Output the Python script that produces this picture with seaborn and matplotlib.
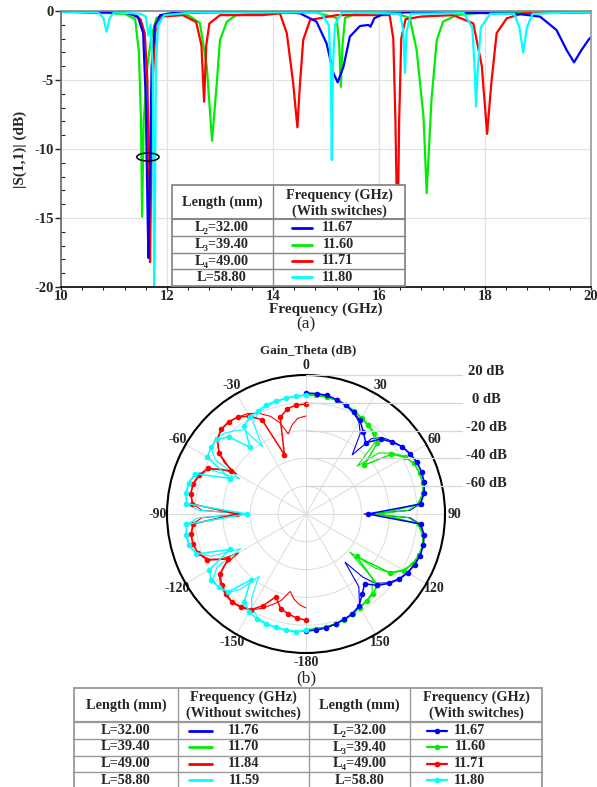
import numpy as np
import seaborn as sns
import matplotlib.pyplot as plt
from matplotlib.patches import Rectangle, Ellipse
from matplotlib.lines import Line2D

sns.set_theme(style='ticks')
plt.rcParams['font.family'] = ['Liberation Serif', 'DejaVu Serif']
plt.rcParams['axes.unicode_minus'] = False

# ---- (a) |S11| curves, with switches ----
blue_f = [10.0, 11.2, 11.45, 11.55, 11.60, 11.63, 11.65, 11.68, 11.71, 11.77, 11.87, 12.1, 13.5, 14.3, 14.51,
          14.82, 15.01, 15.14, 15.22, 15.33, 15.45, 15.64, 15.80, 15.84, 15.91, 16.08, 16.5, 17.0, 18.0, 18.6,
          19.04, 19.35, 19.54, 19.68, 19.82, 19.96, 20.0]
blue_db = [-0.05, -0.1, -0.4, -1.6, -6.4, -13.9, -17.9, -11.3, -4.0, -1.1, -0.3, -0.15, -0.05, -0.1, -0.17,
           -0.77, -2.34, -4.5, -5.17, -4.03, -1.86, -1.09, -1.01, -1.14, -0.53, -0.22, -0.1, -0.12, -0.15, -0.2,
           -0.41, -1.38, -2.83, -3.72, -2.83, -2.05, -1.9]

green_f = [10.0, 11.2, 11.4, 11.47, 11.51, 11.53, 11.56, 11.63, 11.7, 11.8, 12.0, 12.4, 12.62, 12.75, 12.85,
           12.94, 13.0, 13.13, 13.31, 13.6, 14.8, 15.2, 15.25, 15.28, 15.31, 15.36, 15.6, 16.3, 16.58, 16.71,
           16.84, 16.9, 16.99, 17.09, 17.21, 17.47, 18.0, 20.0]
green_db = [-0.05, -0.2, -0.6, -3.0, -8.0, -14.9, -8.0, -4.0, -2.0, -0.5, -0.2, -0.3, -0.87, -4.0, -9.4,
            -5.2, -2.1, -0.77, -0.29, -0.2, -0.1, -0.5, -2.5, -5.5, -2.5, -0.5, -0.15, -0.15, -0.5, -2.83,
            -7.66, -13.2, -6.45, -2.1, -0.77, -0.29, -0.1, -0.05]

red_f = [10.0, 11.3, 11.5, 11.58, 11.63, 11.66, 11.68, 11.70, 11.73, 11.78, 11.9, 12.3, 12.55, 12.65, 12.70,
         12.74, 12.8, 13.0, 13.8, 14.13, 14.26, 14.38, 14.46, 14.51, 14.57, 14.70, 15.2, 15.8, 16.2, 16.27,
         16.31, 16.35, 16.38, 16.42, 16.5, 16.8, 17.4, 17.78, 17.94, 18.04, 18.12, 18.22, 18.41, 18.72, 20.0]
red_db = [-0.05, -0.15, -0.6, -1.6, -5.0, -12.0, -18.2, -12.0, -5.0, -1.5, -0.4, -0.3, -0.8, -2.5, -6.57,
          -2.5, -0.9, -0.3, -0.3, -0.17, -1.6, -5.2, -8.43, -5.2, -2.1, -0.65, -0.3, -0.3, -0.3, -2.0,
          -8.0, -17.0, -8.0, -2.0, -0.6, -0.4, -0.3, -0.9, -4.0, -8.9, -5.2, -1.6, -0.53, -0.17, -0.1]

cyan_f = [10.0, 10.7, 10.8, 10.86, 10.92, 11.0, 11.5, 11.6, 11.65, 11.69, 11.73, 11.76, 11.79, 11.83, 11.95,
          12.5, 14.9, 15.05, 15.09, 15.11, 15.13, 15.17, 15.3, 16.4, 16.46, 16.49, 16.52, 16.6, 17.6, 17.76,
          17.81, 17.83, 17.86, 17.92, 18.1, 18.55, 18.65, 18.72, 18.79, 18.9, 20.0]
cyan_db = [-0.05, -0.1, -0.5, -1.5, -0.5, -0.1, -0.2, -0.4, -1.8, -1.0, -4.0, -21.0, -4.0, -1.0, -0.3,
           -0.1, -0.1, -1.0, -4.0, -10.8, -4.0, -1.0, -0.1, -0.2, -1.5, -4.47, -1.5, -0.2, -0.15, -1.2,
           -4.5, -6.93, -4.5, -1.2, -0.2, -0.2, -1.2, -3.0, -1.2, -0.2, -0.05]

# ---- (b) Gain_Theta patterns (dB) ----
theta_right = list(range(0, 181, 5))
theta_left = list(range(0, -181, -5))

blue_mk = [7.0, 7.0, 6.7, 5.2, 3.5, 0.9, -2.3, -8.1, -13.1, -3.7, 0.6, 4.5, 6.3, 8.1, 8.5, 8.1, 6.3, 2.7,
           -35.4, 2.7, 6.3, 7.4, 7.4, 6.3, 4.5, 2.0, -2.3, -7.3, -14.5, -9.5, -3.7, -0.9, 0.6, 2.0, 3.1, 3.8, 4.2]
green_mk = [6.0, 6.0, 5.6, 4.9, 3.8, 2.0, -0.1, -1.9, -3.7, -7.3, -25.3, -5.2, 2.0, 6.0, 7.0, 7.0, 5.6, 1.3,
            -26.8, 1.3, 5.6, 7.0, 6.7, 4.9, 1.3, -5.9, -32.5, -7.3, -5.2, -3.7, -2.3, -0.5, 0.9, 2.0, 2.7, 3.1, 3.5]
red_mk = [-0.9, -1.2, -3.0, -8.1, -34.7, -5.2, 1.3, 5.2, 6.7, 6.3, 3.5, -3.7, -18.1, -2.3, 2.0, 4.2, 4.2, 2.0,
          -30.4, 1.3, 3.8, 4.2, 2.7, -1.6, -15.3, -4.5, -0.9, 1.3, 2.7, 1.3, -0.5, -7.3, -16.7, -9.5, -7.0, -4.8, -3.7]
cyan_mk = [5.6, 5.2, 4.5, 4.2, 3.5, 2.0, 0.2, -2.3, -17.4, -1.6, 3.8, 3.5, 2.0, -19.6, 4.9, 7.4, 7.8, 6.3,
           -37.6, 6.3, 7.8, 7.0, 4.2, -19.6, 0.6, 3.1, 2.0, -0.9, -18.1, -2.3, 1.3, 3.5, 4.2, 4.5, 4.9, 5.2, 3.5]

blue_thin_t = [0, 5, 10, 15, 20, 25, 30, 34, 38, 41, 45, 50, 55, 60, 65, 70, 75, 80, 85, 88, 90, 92, 95, 100,
               105, 110, 115, 120, 125, 130, 135, 138, 141, 144, 150, 155, 160, 165, 170, 175, 180]
blue_thin = [6.3, 6.3, 6.0, 4.9, 3.1, 0.6, -3.7, -10.2, -26.0, -8.1, -2.3, 1.3, 4.5, 6.7, 8.1, 8.5, 7.8, 6.0,
             2.0, -5.2, -38.3, -5.2, 2.0, 6.0, 7.0, 7.0, 6.0, 4.2, 1.3, -3.0, -9.5, -18.8, -35.4, -15.3, -3.0,
             -0.5, 0.9, 2.0, 3.1, 3.8, 4.2]
green_thin_t = [0, 5, 10, 15, 20, 25, 30, 35, 40, 44, 47, 50, 55, 60, 65, 70, 75, 80, 85, 88, 90, 92, 95, 100,
                105, 110, 115, 120, 125, 128, 131, 134, 140, 145, 150, 155, 160, 165, 170, 175, 180]
green_thin = [5.6, 5.6, 5.2, 4.5, 3.5, 1.7, -0.5, -2.3, -4.5, -9.5, -29.6, -11.7, -3.7, 2.7, 5.6, 6.7, 6.7,
              5.2, 0.6, -6.6, -29.6, -6.6, 0.6, 5.2, 6.7, 6.3, 4.5, 0.6, -6.6, -16.7, -38.3, -13.8, -5.9, -4.1,
              -2.7, -0.9, 0.6, 1.7, 2.4, 2.7, 3.1]
red_thin_t = [0, -5, -9, -12.5, -16, -20, -25, -30, -35, -40, -45, -50, -55, -58, -60, -62, -65, -70, -75, -80,
              -85, -88, -90, -92, -95, -100, -105, -110, -115, -118, -120, -122, -125, -130, -135, -140, -145,
              -150, -155, -160, -164, -168.5, -172, -176, -180]
red_thin = [-9.5, -10.9, -15.3, -21.0, -11.7, -5.2, -0.1, 3.5, 5.2, 6.3, 6.0, 3.1, -3.7, -10.9, -22.4, -10.9,
            -3.7, 1.3, 3.8, 4.2, 1.7, -5.2, -36.8, -5.2, 1.7, 4.2, 4.2, 2.4, -3.0, -10.9, -23.9, -10.9, -3.7,
            0.2, 2.0, 3.1, 2.0, -0.1, -5.2, -10.9, -15.3, -23.2, -18.1, -14.5, -12.4]
cyan_thin_t = [0, -5, -10, -15, -20, -25, -30, -33, -36, -40, -45, -50, -55, -59, -62, -65, -70, -75, -80, -85,
               -88, -90, -92, -95, -100, -105, -110, -114, -118, -121, -125, -130, -135, -139, -143, -147, -150,
               -155, -160, -165, -170, -175, -180]
cyan_thin = [5.2, 4.9, 4.2, 3.5, 2.4, 0.6, -3.7, -22.4, -5.2, -1.6, 2.4, 4.5, 3.5, -3.7, -26.0, -5.2, 4.2, 7.0,
             7.4, 6.0, -2.3, -39.7, -2.3, 6.0, 7.4, 6.7, 3.5, -5.2, -26.8, -5.2, 1.7, 2.4, -0.1, -8.1, -23.9,
             -8.1, -2.3, 2.4, 3.8, 4.2, 4.5, 4.5, 4.5]

# ---- tables ----
len_with = ['L\u2082=32.00', 'L\u2083=39.40', 'L\u2084=49.00', 'L=58.80']
freq_with = ['11.67', '11.60', '11.71', '11.80']
len_without = ['L=32.00', 'L=39.40', 'L=49.00', 'L=58.80']
freq_without = ['11.76', '11.70', '11.84', '11.59']
colors = ['#0000ff', '#00ee00', '#ff0000', '#00ffff']

angle_labels = ['0', '30', '60', '90', '120', '150', '-180', '-150', '-120', '-90', '-60', '-30']
ring_levels = [20, 0, -20, -40, -60]

W, H = 597, 787
fig = plt.figure(figsize=(W / 100, H / 100), dpi=100)


def fx(x):
    return x / W


def fy(y):
    return 1 - y / H


# ================= (a) =================
ax = fig.add_axes([fx(61), fy(287), (591 - 61) / W, (287 - 11) / H])
for f, d, c in [(green_f, green_db, colors[1]), (red_f, red_db, colors[2]),
                (blue_f, blue_db, colors[0]), (cyan_f, cyan_db, colors[3])]:
    sns.lineplot(x=f, y=d, ax=ax, color=c, lw=1.6, sort=False, estimator=None, legend=False)
ax.set_xlim(10, 20)
ax.set_ylim(-20, 0)
ax.set_xticks([10, 12, 14, 16, 18, 20])
ax.set_xticks(np.arange(10, 20.01, 0.4), minor=True)
ax.set_yticks([-20, -15, -10, -5, 0])
ax.set_yticks(np.arange(-20, 0.1, 1), minor=True)
ax.grid(True, which='major', color='#e2e2e2', lw=0.9)
ax.set_axisbelow(True)
ax.tick_params(axis='x', which='major', direction='out', length=2.5, width=1, pad=0, labelsize=10.5)
ax.tick_params(axis='x', which='minor', direction='out', length=2, width=0.8)
ax.tick_params(axis='y', which='major', direction='out', length=4, width=1, pad=1, labelsize=10.5)
ax.tick_params(axis='y', which='minor', direction='in', length=3, width=0.8)
for lbl in ax.get_xticklabels() + ax.get_yticklabels():
    lbl.set_fontweight('bold')
for side, col in [('top', '#888888'), ('right', '#999999'), ('left', '#666666'), ('bottom', 'black')]:
    ax.spines[side].set_color(col)
    ax.spines[side].set_linewidth(1.2)
ax.set_xlabel('Frequency (GHz)', fontsize=11, fontweight='bold')
ax.set_ylabel('|S(1,1)| (dB)', fontsize=11, fontweight='bold')
ax.xaxis.label.set_va('center')
ax.yaxis.label.set_va('center')
ax.xaxis.set_label_coords(0.5, -0.08)
ax.yaxis.set_label_coords(-0.077, 0.5)
ax.add_patch(Ellipse((11.64, -10.58), 0.42, 0.58, fill=False, ec='black', lw=1.1, zorder=6))

# inset table of (a)
tbl_kw = dict(transform=fig.transFigure, zorder=6)
fig.add_artist(Rectangle((fx(172), fy(286)), fx(405) - fx(172), fy(185) - fy(286),
                         facecolor='white', edgecolor='#888888', lw=1.3, **tbl_kw))
fig.add_artist(Line2D([fx(273)] * 2, [fy(185), fy(286)], color='#888888', lw=1.0, **tbl_kw))
for yy, lw in [(219, 1.5), (236, 1.0), (253, 1.0), (269, 1.0)]:
    fig.add_artist(Line2D([fx(172), fx(405)], [fy(yy)] * 2, color='#888888', lw=lw, **tbl_kw))
txt_kw = dict(ha='center', va='center', fontweight='bold', fontsize=10.3, zorder=7)
fig.text(fx(222), fy(202), 'Length (mm)', **txt_kw)
fig.text(fx(339), fy(195), 'Frequency (GHz)', **txt_kw)
fig.text(fx(339), fy(211), '(With switches)', **txt_kw)
for i, yy in enumerate([227.5, 244.5, 261, 277.5]):
    fig.text(fx(222), fy(yy), len_with[i], **txt_kw)
    fig.add_artist(Line2D([fx(292), fx(312)], [fy(yy)] * 2, color=colors[i], lw=2.0, **tbl_kw))
    fig.text(fx(338), fy(yy), freq_with[i], **txt_kw)

fig.text(fx(306), fy(324), '(a)', ha='center', va='center', fontsize=12.5)
fig.text(fx(308), fy(350), 'Gain_Theta (dB)', ha='center', va='center', fontsize=9.5, fontweight='bold')

# ================= (b) =================
pax = fig.add_axes([fx(167), fy(653), (445 - 167) / W, (653 - 375) / H], projection='polar')
pax.set_facecolor('white')
pax.set_theta_zero_location('N')
pax.set_theta_direction(-1)

thin_sets = [(blue_thin_t, blue_thin, colors[0]), (green_thin_t, green_thin, colors[1]),
             (red_thin_t, red_thin, colors[2]), (cyan_thin_t, cyan_thin, colors[3])]
for t, v, c in thin_sets:
    sns.lineplot(x=np.deg2rad(t), y=v, ax=pax, color=c, lw=0.8, sort=False, estimator=None, legend=False)
mk_sets = [(theta_right, green_mk, colors[1]), (theta_right, blue_mk, colors[0]),
           (theta_left, red_mk, colors[2]), (theta_left, cyan_mk, colors[3])]
for t, v, c in mk_sets:
    sns.lineplot(x=np.deg2rad(t), y=v, ax=pax, color=c, lw=1.1, marker='o', markersize=4,
                 markeredgewidth=0, sort=False, estimator=None, legend=False)

pax.set_rlim(-80, 20)
pax.set_yticks([-60, -40, -20, 0])
pax.set_yticklabels([])
pax.set_xticks(np.deg2rad(np.arange(0, 360, 30)))
pax.set_xticklabels(angle_labels, fontweight='bold', fontsize=10)
pax.set_xticks(np.deg2rad(np.arange(0, 360, 5)), minor=True)
pax.tick_params(axis='x', which='both', direction='in', length=4, width=1, color='black', pad=0)
pax.grid(True, which='major', color='#dcdcdc', lw=0.7)
pax.spines['polar'].set_color('black')
pax.spines['polar'].set_linewidth(1.5)
pax.set_xlabel('')
pax.set_ylabel('')

# radial level labels with leader lines
inv = fig.transFigure.inverted()
for lev in ring_levels:
    p = inv.transform(pax.transData.transform((0, lev)))
    fig.add_artist(Line2D([p[0], fx(462)], [p[1], p[1]], color='#d6d6d6', lw=0.9, transform=fig.transFigure))
    fig.text(fx(486), p[1] + 3 / H, f'{lev} dB', ha='center', va='center', fontsize=10.5, fontweight='bold')

fig.text(fx(306), fy(678), '(b)', ha='center', va='center', fontsize=12.5)

# ================= bottom table =================
fig.add_artist(Rectangle((fx(74), fy(800)), fx(542) - fx(74), fy(688) - fy(800),
                         facecolor='white', edgecolor='#999999', lw=1.3, transform=fig.transFigure, zorder=1))
for xx in [178, 309, 410]:
    fig.add_artist(Line2D([fx(xx)] * 2, [fy(688), fy(800)], color='#999999', lw=1.0, transform=fig.transFigure))
for yy, lw in [(722, 1.6), (739, 1.0), (755.5, 1.0), (772, 1.0)]:
    fig.add_artist(Line2D([fx(74), fx(542)], [fy(yy)] * 2, color='#999999', lw=lw, transform=fig.transFigure))

fig.text(fx(126), fy(705), 'Length (mm)', **txt_kw)
fig.text(fx(243.5), fy(697), 'Frequency (GHz)', **txt_kw)
fig.text(fx(243.5), fy(713), '(Without switches)', **txt_kw)
fig.text(fx(359.5), fy(705), 'Length (mm)', **txt_kw)
fig.text(fx(476), fy(697), 'Frequency (GHz)', **txt_kw)
fig.text(fx(476), fy(713), '(With switches)', **txt_kw)
for i, yy in enumerate([730.5, 747, 763.5, 780]):
    fig.text(fx(126), fy(yy), len_without[i], **txt_kw)
    fig.add_artist(Line2D([fx(189), fx(212)], [fy(yy)] * 2, color=colors[i], lw=2.0, transform=fig.transFigure))
    fig.text(fx(244), fy(yy), freq_without[i], **txt_kw)
    fig.text(fx(359.5), fy(yy), len_with[i], **txt_kw)
    fig.add_artist(Line2D([fx(427), fx(447)], [fy(yy)] * 2, color=colors[i], lw=1.6, transform=fig.transFigure))
    fig.add_artist(Line2D([fx(437)], [fy(yy)], color=colors[i], marker='o', markersize=4, markeredgewidth=0,
                          transform=fig.transFigure))
    fig.text(fx(470), fy(yy), freq_with[i], **txt_kw)

fig.savefig('out.png', dpi=100)
